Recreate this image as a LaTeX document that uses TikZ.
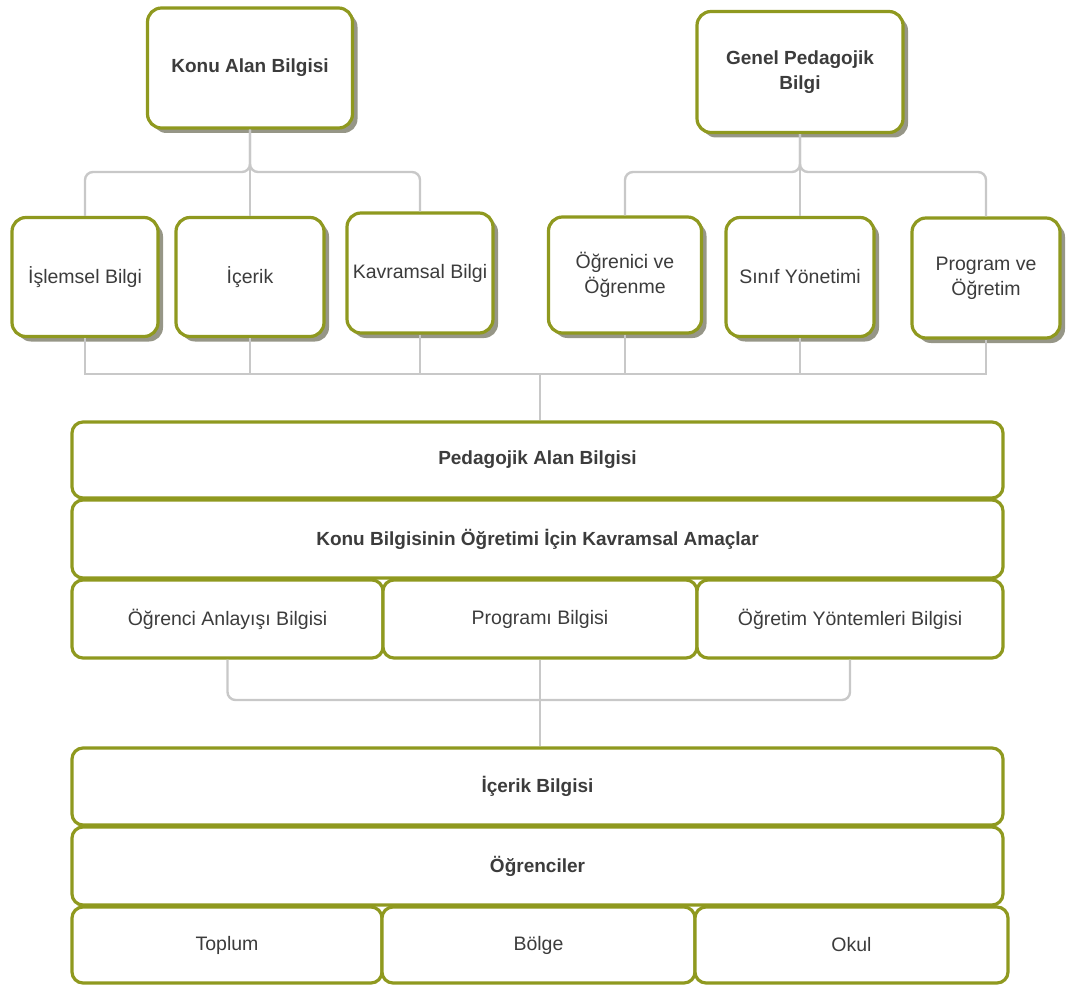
\documentclass[tikz,border=0pt]{standalone}
\usepackage{fontspec}
\setmainfont{Liberation Sans}
\usetikzlibrary{shadows}
\definecolor{boxgreen}{RGB}{143,153,31}
\definecolor{linegray}{RGB}{200,200,200}
\definecolor{shadowgray}{RGB}{150,150,135}
\definecolor{textgray}{RGB}{60,60,60}
\begin{document}
\begin{tikzpicture}[x=1pt,y=-1pt,
  every node/.style={font=\fontsize{19.5}{25}\selectfont, text=textgray, align=center},
  hdr/.style={font=\fontsize{19}{25}\selectfont\bfseries},
  box/.style={draw=boxgreen, line width=3.2pt, fill=white, rounded corners=14pt, inner sep=0pt},
  topbox/.style={box, drop shadow={shadow xshift=5pt, shadow yshift=-5pt, fill=shadowgray, opacity=1}},
  layer/.style={box, rounded corners=11pt},
  conn/.style={draw=linegray, line width=2.4pt}]
\useasboundingbox (0,0) rectangle (1082,987);
% ust kutular
\node[topbox, hdr, minimum width=205pt, minimum height=120pt] (konu) at (250,68) {Konu Alan Bilgisi};
\node[topbox, hdr, minimum width=206pt, minimum height=121pt] (genel) at (800,72) {Genel Pedagojik\\Bilgi};
\node[topbox, minimum width=146pt, minimum height=119pt] (islem) at (85,277) {İşlemsel Bilgi};
\node[topbox, minimum width=148pt, minimum height=119pt] (icerik) at (250,277) {İçerik};
\node[topbox, minimum width=146pt, minimum height=120pt] (kavram) at (420,273) {Kavramsal Bilgi};
\node[topbox, minimum width=153pt, minimum height=116pt] (ogrenici) at (625,275) {Öğrenici ve\\Öğrenme};
\node[topbox, minimum width=148pt, minimum height=119pt] (sinif) at (800,277) {Sınıf Yönetimi};
\node[topbox, minimum width=148pt, minimum height=120pt] (program) at (986,278) {Program ve\\Öğretim};
% katmanlar
\node[layer, hdr, minimum width=931pt, minimum height=76pt] (pab) at (537.5,460) {Pedagojik Alan Bilgisi};
\node[layer, hdr, minimum width=931pt, minimum height=78pt] (kba) at (537.5,539) {Konu Bilgisinin Öğretimi İçin Kavramsal Amaçlar};
\node[layer, minimum width=311pt, minimum height=78pt] (oab) at (227.5,619) {Öğrenci Anlayışı Bilgisi};
\node[layer, minimum width=314pt, minimum height=78pt] (pb) at (540,619) {Programı Bilgisi};
\node[layer, minimum width=306pt, minimum height=78pt] (oyb) at (850,619) {Öğretim Yöntemleri Bilgisi};
\node[layer, hdr, minimum width=931pt, minimum height=77pt] (ib) at (537.5,786.5) {İçerik Bilgisi};
\node[layer, hdr, minimum width=931pt, minimum height=78pt] (ogr) at (537.5,866) {Öğrenciler};
\node[layer, minimum width=310pt, minimum height=76pt] (toplum) at (227,945) {Toplum};
\node[layer, minimum width=313pt, minimum height=76pt] (bolge) at (538.5,945) {Bölge};
\node[layer, minimum width=313pt, minimum height=76pt] (okul) at (851.5,945) {Okul};
% baglantilar
\coordinate (kbar) at (250,172);
\coordinate (gbar) at (800,172);
\coordinate (tbar) at (540,374);
\coordinate (bbar) at (540,700);
\draw[conn, rounded corners=8pt] (islem.north) |- (kbar) -- (konu.south);
\draw[conn, rounded corners=8pt] (kavram.north) |- (kbar) -- (konu.south);
\draw[conn] (konu.south) -- (icerik.north);
\draw[conn, rounded corners=8pt] (ogrenici.north) |- (gbar) -- (genel.south);
\draw[conn, rounded corners=8pt] (program.north) |- (gbar) -- (genel.south);
\draw[conn] (genel.south) -- (sinif.north);
\draw[conn] (islem.south) |- (tbar) -| (program.south);
\foreach \n in {icerik,kavram,ogrenici,sinif}
  \draw[conn] (\n.south) -- (\n.south |- tbar);
\draw[conn] (tbar) -- (tbar |- pab.north);
\draw[conn, rounded corners=8pt] (oab.south) |- (bbar) -| (oyb.south);
\draw[conn] (pb.south) -- (pb.south |- ib.north);
\end{tikzpicture}
\end{document}
